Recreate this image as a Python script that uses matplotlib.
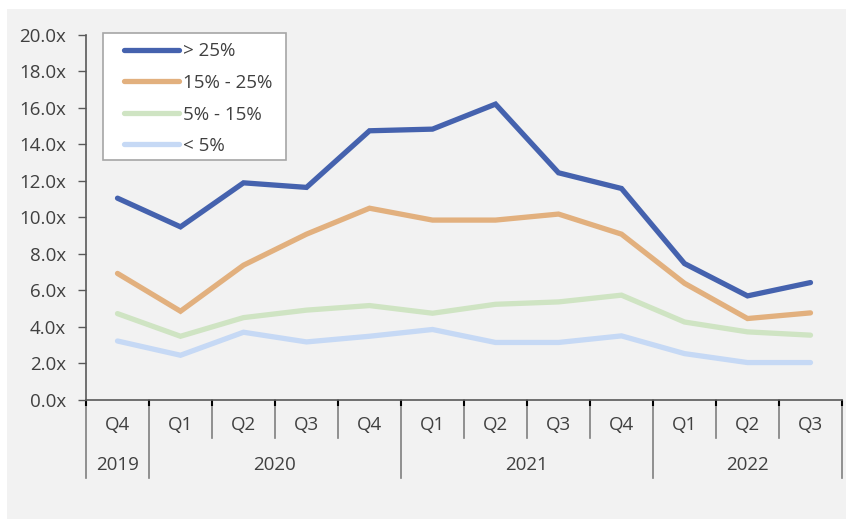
import matplotlib
matplotlib.use("Agg")
import matplotlib.pyplot as plt
from matplotlib.patches import Rectangle
from matplotlib.ticker import FuncFormatter

quarters = ["Q4", "Q1", "Q2", "Q3", "Q4", "Q1", "Q2", "Q3", "Q4", "Q1", "Q2", "Q3"]
years = ["2019", "2020", "2021", "2022"]
year_counts = [1, 4, 4, 3]

series_names = ["> 25%", "15% - 25%", "5% - 15%", "< 5%"]
gt25 = [11.05, 9.48, 11.89, 11.64, 14.74, 14.83, 16.20, 12.44, 11.58, 7.47, 5.70, 6.43]
s15_25 = [6.93, 4.86, 7.38, 9.08, 10.50, 9.85, 9.85, 10.18, 9.08, 6.39, 4.46, 4.77]
s5_15 = [4.73, 3.49, 4.51, 4.92, 5.17, 4.75, 5.24, 5.37, 5.74, 4.27, 3.73, 3.55]
lt5 = [3.23, 2.45, 3.71, 3.18, 3.49, 3.86, 3.15, 3.15, 3.51, 2.54, 2.05, 2.05]
colors = ["#4562AE", "#E2B07E", "#CFE4C3", "#C6D9F5"]

W, H = 846, 519
plt.rcParams["font.family"] = ["Open Sans", "DejaVu Sans"]
txt_color = "#404040"
FS = 13.5

fig = plt.figure(figsize=(W / 100, H / 100), dpi=100, facecolor="white")
fig.add_artist(Rectangle((7 / W, 0), 1 - 7 / W, (H - 9) / H, transform=fig.transFigure,
                         facecolor="#F2F2F2", edgecolor="none", zorder=-10))

ax_l, ax_r, ax_t, ax_b = 86, 842, 34.7, 400
ax = fig.add_axes([ax_l / W, (H - ax_b) / H, (ax_r - ax_l) / W, (ax_b - ax_t) / H])
ax.set_facecolor("none")
ax.set_zorder(1)

x = list(range(len(quarters)))
for vals, name, c in zip([gt25, s15_25, s5_15, lt5], series_names, colors):
    ax.plot(x, vals, color=c, lw=3.8, label=name, solid_capstyle="round", solid_joinstyle="miter")

ax.set_xlim(-0.5, len(quarters) - 0.5)
ax.set_ylim(0, 20)
ax.set_yticks(range(0, 21, 2))
ax.yaxis.set_major_formatter(FuncFormatter(lambda v, p: f"{v:.1f}x"))
ax.tick_params(axis="y", length=6, width=1, color="#595959", labelsize=FS, labelcolor=txt_color, pad=8.5)

bounds = [i - 0.5 for i in range(len(quarters) + 1)]
ax.set_xticks(bounds)
ax.set_xticklabels([])
ax.tick_params(axis="x", length=4, width=1.5, color="black")

for s in ["top", "right"]:
    ax.spines[s].set_visible(False)
ax.spines["left"].set_color("#595959")
ax.spines["bottom"].set_color("#595959")
ax.spines["left"].set_linewidth(1.2)
ax.spines["bottom"].set_linewidth(1.2)

ah = ax_b - ax_t
tr = ax.get_xaxis_transform()
year_bounds = [-0.5]
acc = -0.5
for n in year_counts:
    acc += n
    year_bounds.append(acc)
for b in bounds:
    depth = 78 if b in year_bounds else 38
    ax.plot([b, b], [0, -depth / ah], transform=tr, color="#7F7F7F", lw=1.2, clip_on=False, zorder=1)

for i, q in enumerate(quarters):
    ax.text(i, -25 / ah, q, transform=tr, ha="center", va="center", fontsize=FS, color=txt_color)
start = -0.5
for yname, n in zip(years, year_counts):
    ax.text(start + n / 2, -65 / ah, yname, transform=tr, ha="center", va="center", fontsize=FS, color=txt_color)
    start += n

# legend box
fig.add_artist(Rectangle((103 / W, (H - 160) / H), (286 - 103) / W, (160 - 33.3) / H,
                         transform=fig.transFigure, facecolor="white", edgecolor="#A6A6A6",
                         lw=1.2, zorder=0.5))
fpx = FS * 100 / 72
leg = ax.legend(loc="upper left", bbox_to_anchor=(124 / W, (H - 42.5) / H), bbox_transform=fig.transFigure,
                fontsize=FS, frameon=False, handlelength=55 / fpx, handletextpad=4 / fpx,
                labelspacing=0.72, borderpad=0, borderaxespad=0)
for t in leg.get_texts():
    t.set_color(txt_color)

fig.savefig("out.png", dpi=100, facecolor=fig.get_facecolor())
